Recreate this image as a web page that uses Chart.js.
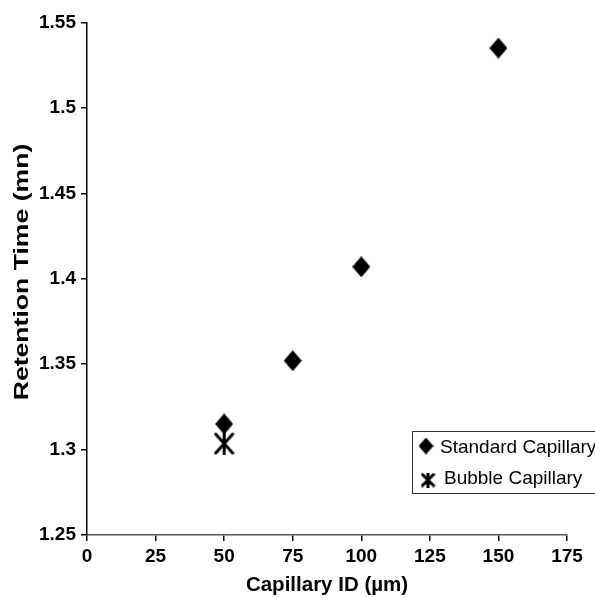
<!DOCTYPE html>
<html>
<head>
<meta charset="utf-8">
<script src="https://cdn.jsdelivr.net/npm/chart.js@4"></script>
<style>
html,body{margin:0;padding:0;background:#fff;}
#wrap{width:595px;height:598px;}
</style>
</head>
<body>
<div id="wrap"><canvas id="c" width="595" height="598"></canvas></div>
<script>
// ---- data ----
const standardX = [50, 75, 100, 150];
const standardY = [1.315, 1.352, 1.407, 1.535];
const bubbleX = [50];
const bubbleY = [1.3035];
const xTickLabels = ['0', '25', '50', '75', '100', '125', '150', '175'];
const yTickLabels = ['1.25', '1.3', '1.35', '1.4', '1.45', '1.5', '1.55'];
const seriesNames = ['Standard Capillary', 'Bubble Capillary'];
const xTitle = 'Capillary ID (µm)';
const yTitle = 'Retention Time (mn)';

// custom markers
function makeBubbleMarker(w, h, lw) {
  const c = document.createElement('canvas');
  c.width = w; c.height = h;
  const g = c.getContext('2d');
  g.strokeStyle = '#000';
  g.lineWidth = lw;
  g.lineCap = 'round';
  const m = lw / 2 + 0.5;
  g.beginPath();
  g.moveTo(m, m); g.lineTo(w - m, h - m);
  g.moveTo(w - m, m); g.lineTo(m, h - m);
  g.moveTo(w / 2, 0); g.lineTo(w / 2, h);
  g.stroke();
  return c;
}
function makeDiamond(w, h) {
  const c = document.createElement('canvas');
  c.width = w; c.height = h;
  const g = c.getContext('2d');
  g.fillStyle = '#000';
  g.beginPath();
  g.moveTo(w / 2, 0); g.lineTo(w, h / 2); g.lineTo(w / 2, h); g.lineTo(0, h / 2);
  g.closePath(); g.fill();
  return c;
}
const bubbleMarker = makeBubbleMarker(21, 23, 3);
const diamondMarker = makeDiamond(18, 21);
const bubbleLegendMarker = makeBubbleMarker(15, 15, 3);
const diamondLegendMarker = makeDiamond(15, 17);

const FONT = "'Liberation Sans', Arial, sans-serif";

const extras = {
  id: 'extras',
  afterDraw(chart) {
    const ctx = chart.ctx;
    ctx.save();
    // y-axis title (stretched along its length like the reference)
    ctx.save();
    ctx.translate(22, 272);
    ctx.rotate(-Math.PI / 2);
    ctx.scale(1.33, 1);
    ctx.font = 'bold 20px ' + FONT;
    ctx.fillStyle = '#000';
    ctx.textAlign = 'center';
    ctx.textBaseline = 'middle';
    ctx.fillText(yTitle, 0, 0);
    ctx.restore();
    // legend box
    ctx.strokeStyle = '#333';
    ctx.lineWidth = 1;
    ctx.strokeRect(412.5, 431.5, 200, 62);
    ctx.drawImage(diamondLegendMarker, 426 - 7.5, 446 - 8.5);
    ctx.drawImage(bubbleLegendMarker, 428 - 7.5, 480 - 7.5);
    ctx.fillStyle = '#000';
    ctx.font = '19px ' + FONT;
    ctx.textBaseline = 'middle';
    ctx.textAlign = 'left';
    ctx.fillText(seriesNames[0], 440, 448);
    ctx.fillText(seriesNames[1], 444, 479);
    ctx.restore();
  }
};

new Chart(document.getElementById('c'), {
  type: 'scatter',
  data: {
    datasets: [
      {
        label: seriesNames[0],
        data: standardX.map((x, i) => ({x: x, y: standardY[i]})),
        pointStyle: diamondMarker,
        pointRadius: 10,
        backgroundColor: '#000',
        borderColor: '#000'
      },
      {
        label: seriesNames[1],
        data: bubbleX.map((x, i) => ({x: x, y: bubbleY[i]})),
        pointStyle: bubbleMarker,
        pointRadius: 11,
        backgroundColor: '#000',
        borderColor: '#000'
      }
    ]
  },
  options: {
    responsive: false,
    animation: false,
    events: [],
    layout: { padding: { left: 0, right: 28, top: 22.5, bottom: 0 } },
    plugins: { legend: { display: false }, tooltip: { enabled: false } },
    scales: {
      x: {
        type: 'linear', min: 0, max: 175,
        afterFit(s) { s.height = 63; },
        afterBuildTicks(s) { s.ticks = xTickLabels.map(v => ({value: Number(v)})); },
        ticks: {
          callback: (v, i) => xTickLabels[i],
          color: '#000', font: { family: FONT, size: 19, weight: 'bold' }, padding: 4, maxRotation: 0
        },
        grid: { display: true, drawOnChartArea: false, drawTicks: true, tickLength: 6, color: '#000', lineWidth: 1.5 },
        border: { display: true, color: '#555', width: 1.5 },
        title: { display: true, text: xTitle, color: '#000', font: { family: FONT, size: 20.5, weight: 'bold' }, padding: { top: 0, bottom: 0 } }
      },
      y: {
        type: 'linear', min: 1.25, max: 1.55,
        afterFit(s) { s.width = 87; },
        afterBuildTicks(s) { s.ticks = yTickLabels.map(v => ({value: Number(v)})); },
        ticks: {
          callback: (v, i) => yTickLabels[i],
          color: '#000', font: { family: FONT, size: 19, weight: 'bold' }, padding: 5
        },
        grid: { display: true, drawOnChartArea: false, drawTicks: true, tickLength: 6, color: '#000', lineWidth: 1.5 },
        border: { display: true, color: '#000', width: 1.5 },
        title: { display: false }
      }
    }
  },
  plugins: [extras]
});
</script>
</body>
</html>
